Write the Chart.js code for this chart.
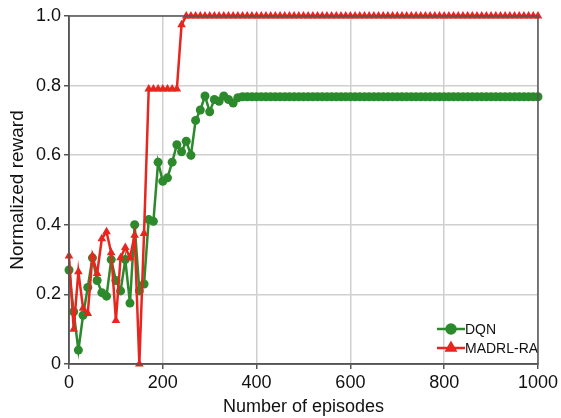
<!DOCTYPE html>
<html>
<head>
<meta charset="utf-8">
<script src="https://cdn.jsdelivr.net/npm/chart.js@4.4.1/dist/chart.umd.min.js"></script>
<style>
  html, body { margin: 0; padding: 0; background: #fff; }
  .wrap { width: 561px; height: 418px; }
</style>
</head>
<body>
<div class="wrap"><canvas id="myChart" width="561" height="418"></canvas></div>
<script>
const episodes = [
  0, 10, 20, 30, 40, 50, 60, 70, 80, 90,
  100, 110, 120, 130, 140, 150, 160, 170, 180, 190,
  200, 210, 220, 230, 240, 250, 260, 270, 280, 290,
  300, 310, 320, 330, 340, 350, 360, 370, 380, 390,
  400, 410, 420, 430, 440, 450, 460, 470, 480, 490,
  500, 510, 520, 530, 540, 550, 560, 570, 580, 590,
  600, 610, 620, 630, 640, 650, 660, 670, 680, 690,
  700, 710, 720, 730, 740, 750, 760, 770, 780, 790,
  800, 810, 820, 830, 840, 850, 860, 870, 880, 890,
  900, 910, 920, 930, 940, 950, 960, 970, 980, 990,
  1000
];

const dqn = [
  0.27, 0.15, 0.04, 0.14, 0.22, 0.305, 0.24, 0.205, 0.195, 0.30,
  0.24, 0.21, 0.30, 0.175, 0.40, 0.21, 0.23, 0.415, 0.41, 0.58,
  0.525, 0.535, 0.58, 0.63, 0.61, 0.64, 0.60, 0.70, 0.73, 0.77,
  0.725, 0.76, 0.755, 0.77, 0.76, 0.75, 0.765, 0.768, 0.768, 0.768,
  0.768, 0.768, 0.768, 0.768, 0.768, 0.768, 0.768, 0.768, 0.768, 0.768,
  0.768, 0.768, 0.768, 0.768, 0.768, 0.768, 0.768, 0.768, 0.768, 0.768,
  0.768, 0.768, 0.768, 0.768, 0.768, 0.768, 0.768, 0.768, 0.768, 0.768,
  0.768, 0.768, 0.768, 0.768, 0.768, 0.768, 0.768, 0.768, 0.768, 0.768,
  0.768, 0.768, 0.768, 0.768, 0.768, 0.768, 0.768, 0.768, 0.768, 0.768,
  0.768, 0.768, 0.768, 0.768, 0.768, 0.768, 0.768, 0.768, 0.768, 0.768,
  0.768
];

const madrl = [
  0.31, 0.10, 0.265, 0.16, 0.145, 0.31, 0.26, 0.36, 0.38, 0.32,
  0.125, 0.305, 0.335, 0.305, 0.37, 0.0, 0.375, 0.79, 0.79, 0.79,
  0.79, 0.79, 0.79, 0.79, 0.975, 1.0, 1.0, 1.0, 1.0, 1.0,
  1.0, 1.0, 1.0, 1.0, 1.0, 1.0, 1.0, 1.0, 1.0, 1.0,
  1.0, 1.0, 1.0, 1.0, 1.0, 1.0, 1.0, 1.0, 1.0, 1.0,
  1.0, 1.0, 1.0, 1.0, 1.0, 1.0, 1.0, 1.0, 1.0, 1.0,
  1.0, 1.0, 1.0, 1.0, 1.0, 1.0, 1.0, 1.0, 1.0, 1.0,
  1.0, 1.0, 1.0, 1.0, 1.0, 1.0, 1.0, 1.0, 1.0, 1.0,
  1.0, 1.0, 1.0, 1.0, 1.0, 1.0, 1.0, 1.0, 1.0, 1.0,
  1.0, 1.0, 1.0, 1.0, 1.0, 1.0, 1.0, 1.0, 1.0, 1.0,
  1.0
];

const seriesNames = ['DQN', 'MADRL-RA'];
const xTicks = [0, 200, 400, 600, 800, 1000];
const yTicks = [0, 0.2, 0.4, 0.6, 0.8, 1.0];

const GREEN = '#2c8a2c';
const RED = '#e8251f';
const FONT = "'Liberation Sans', Arial, sans-serif";

// legend drawn inside the plot, bottom right, with line + marker like the original
const insideLegend = {
  id: 'insideLegend',
  afterDatasetsDraw(chart) {
    const { ctx, chartArea } = chart;
    const items = [
      { text: seriesNames[0], color: GREEN, style: 'circle' },
      { text: seriesNames[1], color: RED, style: 'triangle' }
    ];
    ctx.save();
    ctx.font = '14px ' + FONT;
    ctx.textBaseline = 'middle';
    items.forEach((it, i) => {
      const y = chartArea.bottom - 35 + i * 19;
      const x0 = chartArea.left + 368;
      ctx.strokeStyle = it.color;
      ctx.lineWidth = 2.5;
      ctx.beginPath();
      ctx.moveTo(x0, y);
      ctx.lineTo(x0 + 28, y);
      ctx.stroke();
      Chart.helpers.drawPoint(ctx, {
        pointStyle: it.style, radius: it.style === 'triangle' ? 5 : 4.5, borderWidth: 1
      }, x0 + 14, y);
      ctx.fillStyle = it.color;
      ctx.fill();
      ctx.fillStyle = '#111';
      ctx.fillText(it.text, x0 + 28, y + 1);
    });
    ctx.restore();
  },
  afterDraw(chart) {
    const { ctx, chartArea } = chart;
    ctx.save();
    ctx.strokeStyle = '#555';
    ctx.lineWidth = 1.5;
    ctx.strokeRect(chartArea.left, chartArea.top, chartArea.right - chartArea.left, chartArea.bottom - chartArea.top);
    ctx.restore();
  }
};

const ctx = document.getElementById('myChart').getContext('2d');
new Chart(ctx, {
  type: 'line',
  data: {
    labels: episodes,
    datasets: [{
      label: seriesNames[0],
      data: episodes.map((e, i) => ({ x: e, y: dqn[i] })),
      borderColor: GREEN,
      backgroundColor: GREEN,
      borderWidth: 2.5,
      pointStyle: 'circle',
      pointRadius: 4.5,
      pointBorderWidth: 0,
      tension: 0,
      clip: false,
      order: 2
    }, {
      label: seriesNames[1],
      data: episodes.map((e, i) => ({ x: e, y: madrl[i] })),
      borderColor: RED,
      backgroundColor: RED,
      borderWidth: 2.5,
      pointStyle: 'triangle',
      pointRadius: 5,
      pointBorderWidth: 0,
      tension: 0,
      clip: false,
      order: 1
    }]
  },
  options: {
    responsive: false,
    animation: false,
    layout: { padding: { top: 16, right: 21, left: 0, bottom: 0 } },
    plugins: {
      legend: { display: false },
      tooltip: { enabled: false }
    },
    scales: {
      x: {
        type: 'linear',
        min: 0,
        max: 1000,
        afterBuildTicks: s => { s.ticks = xTicks.map(v => ({ value: v })); },
        afterFit: s => { s.height = 54; },
        grid: { color: '#cfcfcf', lineWidth: 1.5, tickLength: 5, tickColor: '#555' },
        border: { color: '#555', width: 1.5 },
        ticks: {
          color: '#111', font: { family: FONT, size: 18 }, padding: 3, maxRotation: 0,
          callback: v => String(v)
        },
        title: { display: true, text: 'Number of episodes', color: '#111', font: { family: FONT, size: 18 }, padding: { top: 0, bottom: 0 } }
      },
      y: {
        min: 0,
        max: 1,
        afterBuildTicks: s => { s.ticks = yTicks.map(v => ({ value: v })); },
        afterFit: s => { s.width = 69; },
        grid: { color: '#cfcfcf', lineWidth: 1.5, tickLength: 5, tickColor: '#555' },
        border: { color: '#555', width: 1.5 },
        ticks: {
          color: '#111', font: { family: FONT, size: 18 }, padding: 3,
          callback: v => v === 0 ? '0' : v.toFixed(1)
        },
        title: { display: true, text: 'Normalized reward', color: '#111', font: { family: FONT, size: 19 }, padding: { top: 6, bottom: 0 } }
      }
    }
  },
  plugins: [insideLegend]
});
</script>
</body>
</html>
